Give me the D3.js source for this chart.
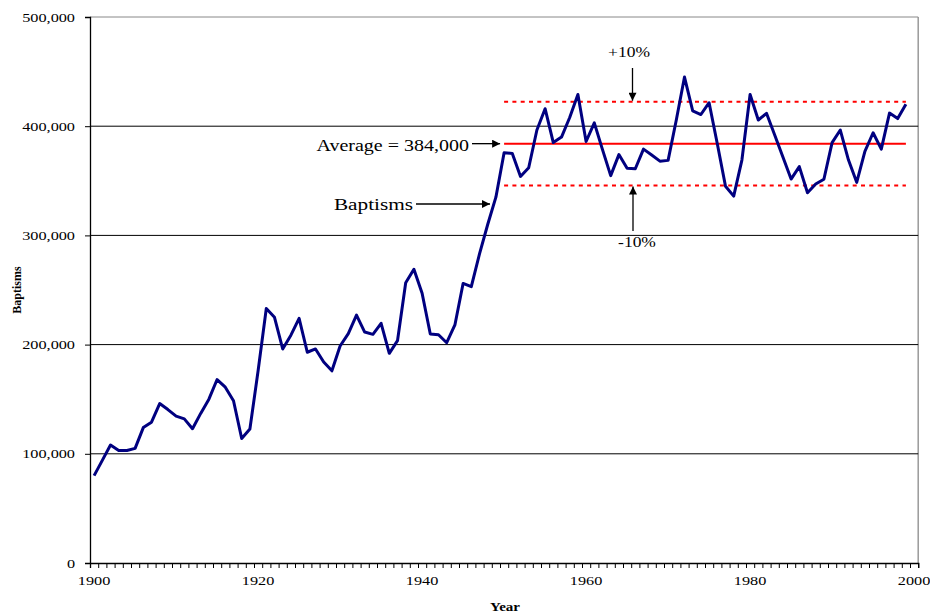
<!DOCTYPE html>
<html>
<head>
<meta charset="utf-8">
<script src="https://cdn.jsdelivr.net/npm/d3@7"></script>
<style>
  body { margin: 0; background: #fff; }
  text { font-family: "Liberation Serif", "Times New Roman", serif; }
</style>
</head>
<body>
<svg id="chart" width="930" height="614"></svg>
<script>
// yearly baptisms, 1900-1999
let years = d3.range(1900, 2000)
let baptisms = [
  80000, 94000, 108000, 103000, 103000, 105000, 124000, 129000, 146000, 140500,
  134500, 132000, 123000, 137000, 150000, 168000, 161000, 148600, 114000, 122700,
  176000, 233000, 225000, 196000, 208600, 224000, 193000, 196000, 184000, 176000,
  198700, 210000, 227000, 211500, 209400, 219500, 192000, 203600, 256700, 269000,
  247000, 209700, 209000, 201700, 218000, 256000, 253000, 283000, 310000, 335000,
  375700, 375000, 354000, 362000, 396500, 416000, 385000, 390000, 408000, 429000,
  386000, 403000, 378500, 354700, 374000, 361400, 361000, 379000, 373600, 368000,
  368700, 405700, 445000, 414000, 410700, 421500, 384000, 345000, 336000, 369000,
  429000, 405700, 411800, 392000, 371800, 351600, 363000, 339000, 347000, 351400,
  385000, 396500, 369000, 348600, 377000, 394000, 379000, 412000, 407000, 420000
]
let yTicks = [0, 100000, 200000, 300000, 400000, 500000]
let xLabels = [1900, 1920, 1940, 1960, 1980, 2000]
let average = 384000
let bandStart = 1950, bandEnd = 1999

const svg = d3.select('#chart')
const stretch = 1.25 // the original text is drawn a bit wide

// categories are whole years, each point sits in the middle of its year
const x = d3.scaleLinear().domain([1900, 2001]).range([90, 918.2])
const y = d3.scaleLinear().domain([0, 500000]).range([563, 17])
const mid = function (yr) { return x(yr + 0.5) }

svg.append('defs').append('marker')
  .attr('id', 'arrow').attr('viewBox', '0 0 10 10')
  .attr('refX', 10).attr('refY', 5)
  .attr('markerWidth', 10).attr('markerHeight', 8)
  .attr('markerUnits', 'userSpaceOnUse')
  .attr('orient', 'auto')
  .append('path').attr('d', 'M0,0 L10,5 L0,10 Z').attr('fill', '#000')

// plot frame (right side in grey)
svg.append('line').attr('x1', x(2001)).attr('x2', x(2001)).attr('y1', y(500000)).attr('y2', y(0))
  .attr('stroke', '#999').attr('stroke-width', 1.5)

// gridlines
svg.append('g').selectAll('line').data(yTicks.slice(1)).join('line')
  .attr('x1', x(1900)).attr('x2', x(2001))
  .attr('y1', d => y(d)).attr('y2', d => y(d))
  .attr('stroke', d => d === 500000 ? '#888' : '#000').attr('stroke-width', 1)

// y axis
const yAxis = svg.append('g').attr('transform', 'translate(' + x(1900) + ',0)')
  .call(d3.axisLeft(y).tickValues(yTicks).tickSize(5).tickPadding(7).tickFormat(d3.format(',')))
yAxis.select('.domain').attr('stroke', '#000').attr('stroke-width', 1.3)
yAxis.selectAll('text').attr('font-size', 13).attr('fill', '#000')
  .attr('font-family', '"Liberation Serif", serif')
  .attr('transform', 'scale(' + stretch + ',1)')

// x axis: a tick at every year boundary, labels in the category centres
const xAxis = svg.append('g').attr('transform', 'translate(0,' + y(0) + ')')
  .call(d3.axisBottom(x).tickValues(d3.range(1900, 2002)).tickSize(5).tickFormat(''))
xAxis.select('.domain').attr('stroke', '#000').attr('stroke-width', 1.3)
xAxis.selectAll('line').attr('stroke', '#000')

svg.append('g').selectAll('text').data(xLabels).join('text')
  .attr('transform', d => 'translate(' + mid(d) + ',' + (y(0) + 22) + ') scale(' + stretch + ',1)')
  .attr('text-anchor', 'middle').attr('font-size', 13).text(d => d)

// axis titles
svg.append('text')
  .attr('transform', 'translate(' + 505 + ',611) scale(' + stretch + ',1)')
  .attr('text-anchor', 'middle').attr('font-size', 12).attr('font-weight', 'bold').text('Year')
svg.append('text')
  .attr('transform', 'translate(21,' + y(250000) + ') rotate(-90)')
  .attr('text-anchor', 'middle').attr('font-size', 12).attr('font-weight', 'bold').text('Baptisms')

// average and +/-10% band
svg.append('line')
  .attr('x1', mid(bandStart)).attr('x2', mid(bandEnd))
  .attr('y1', y(average)).attr('y2', y(average))
  .attr('stroke', '#ff0000').attr('stroke-width', 2)
;[1.1, 0.9].forEach(function (f) {
  svg.append('line')
    .attr('x1', mid(bandStart)).attr('x2', mid(bandEnd))
    .attr('y1', y(average * f)).attr('y2', y(average * f))
    .attr('stroke', '#ff0000').attr('stroke-width', 2).attr('stroke-dasharray', '4,4.3')
})

// the series
const line = d3.line().x((d, i) => mid(years[i])).y(d => y(d))
svg.append('path').datum(baptisms)
  .attr('d', line).attr('fill', 'none')
  .attr('stroke', '#000080').attr('stroke-width', 3).attr('stroke-linejoin', 'round')

// annotations
function arrow(x1, y1, x2, y2) {
  svg.append('line').attr('x1', x1).attr('y1', y1).attr('x2', x2).attr('y2', y2)
    .attr('stroke', '#000').attr('stroke-width', 1.3).attr('marker-end', 'url(#arrow)')
}
function label(tx, ty, anchor, size, txt) {
  svg.append('text')
    .attr('transform', 'translate(' + tx + ',' + ty + ') scale(' + stretch + ',1)')
    .attr('text-anchor', anchor).attr('font-size', size).text(txt)
}

label(629, 57, 'middle', 14, '+10%')
arrow(632.5, 68, 632.5, y(average * 1.1) - 1)
label(637, 247, 'middle', 14, '-10%')
arrow(633, 231, 633, y(average * 0.9) + 1)
label(469, 151, 'end', 16, 'Average = 384,000')
arrow(472, y(average), mid(bandStart) - 4, y(average))
label(413, 210, 'end', 17, 'Baptisms')
arrow(416, 204, 490, 204)
</script>
</body>
</html>
